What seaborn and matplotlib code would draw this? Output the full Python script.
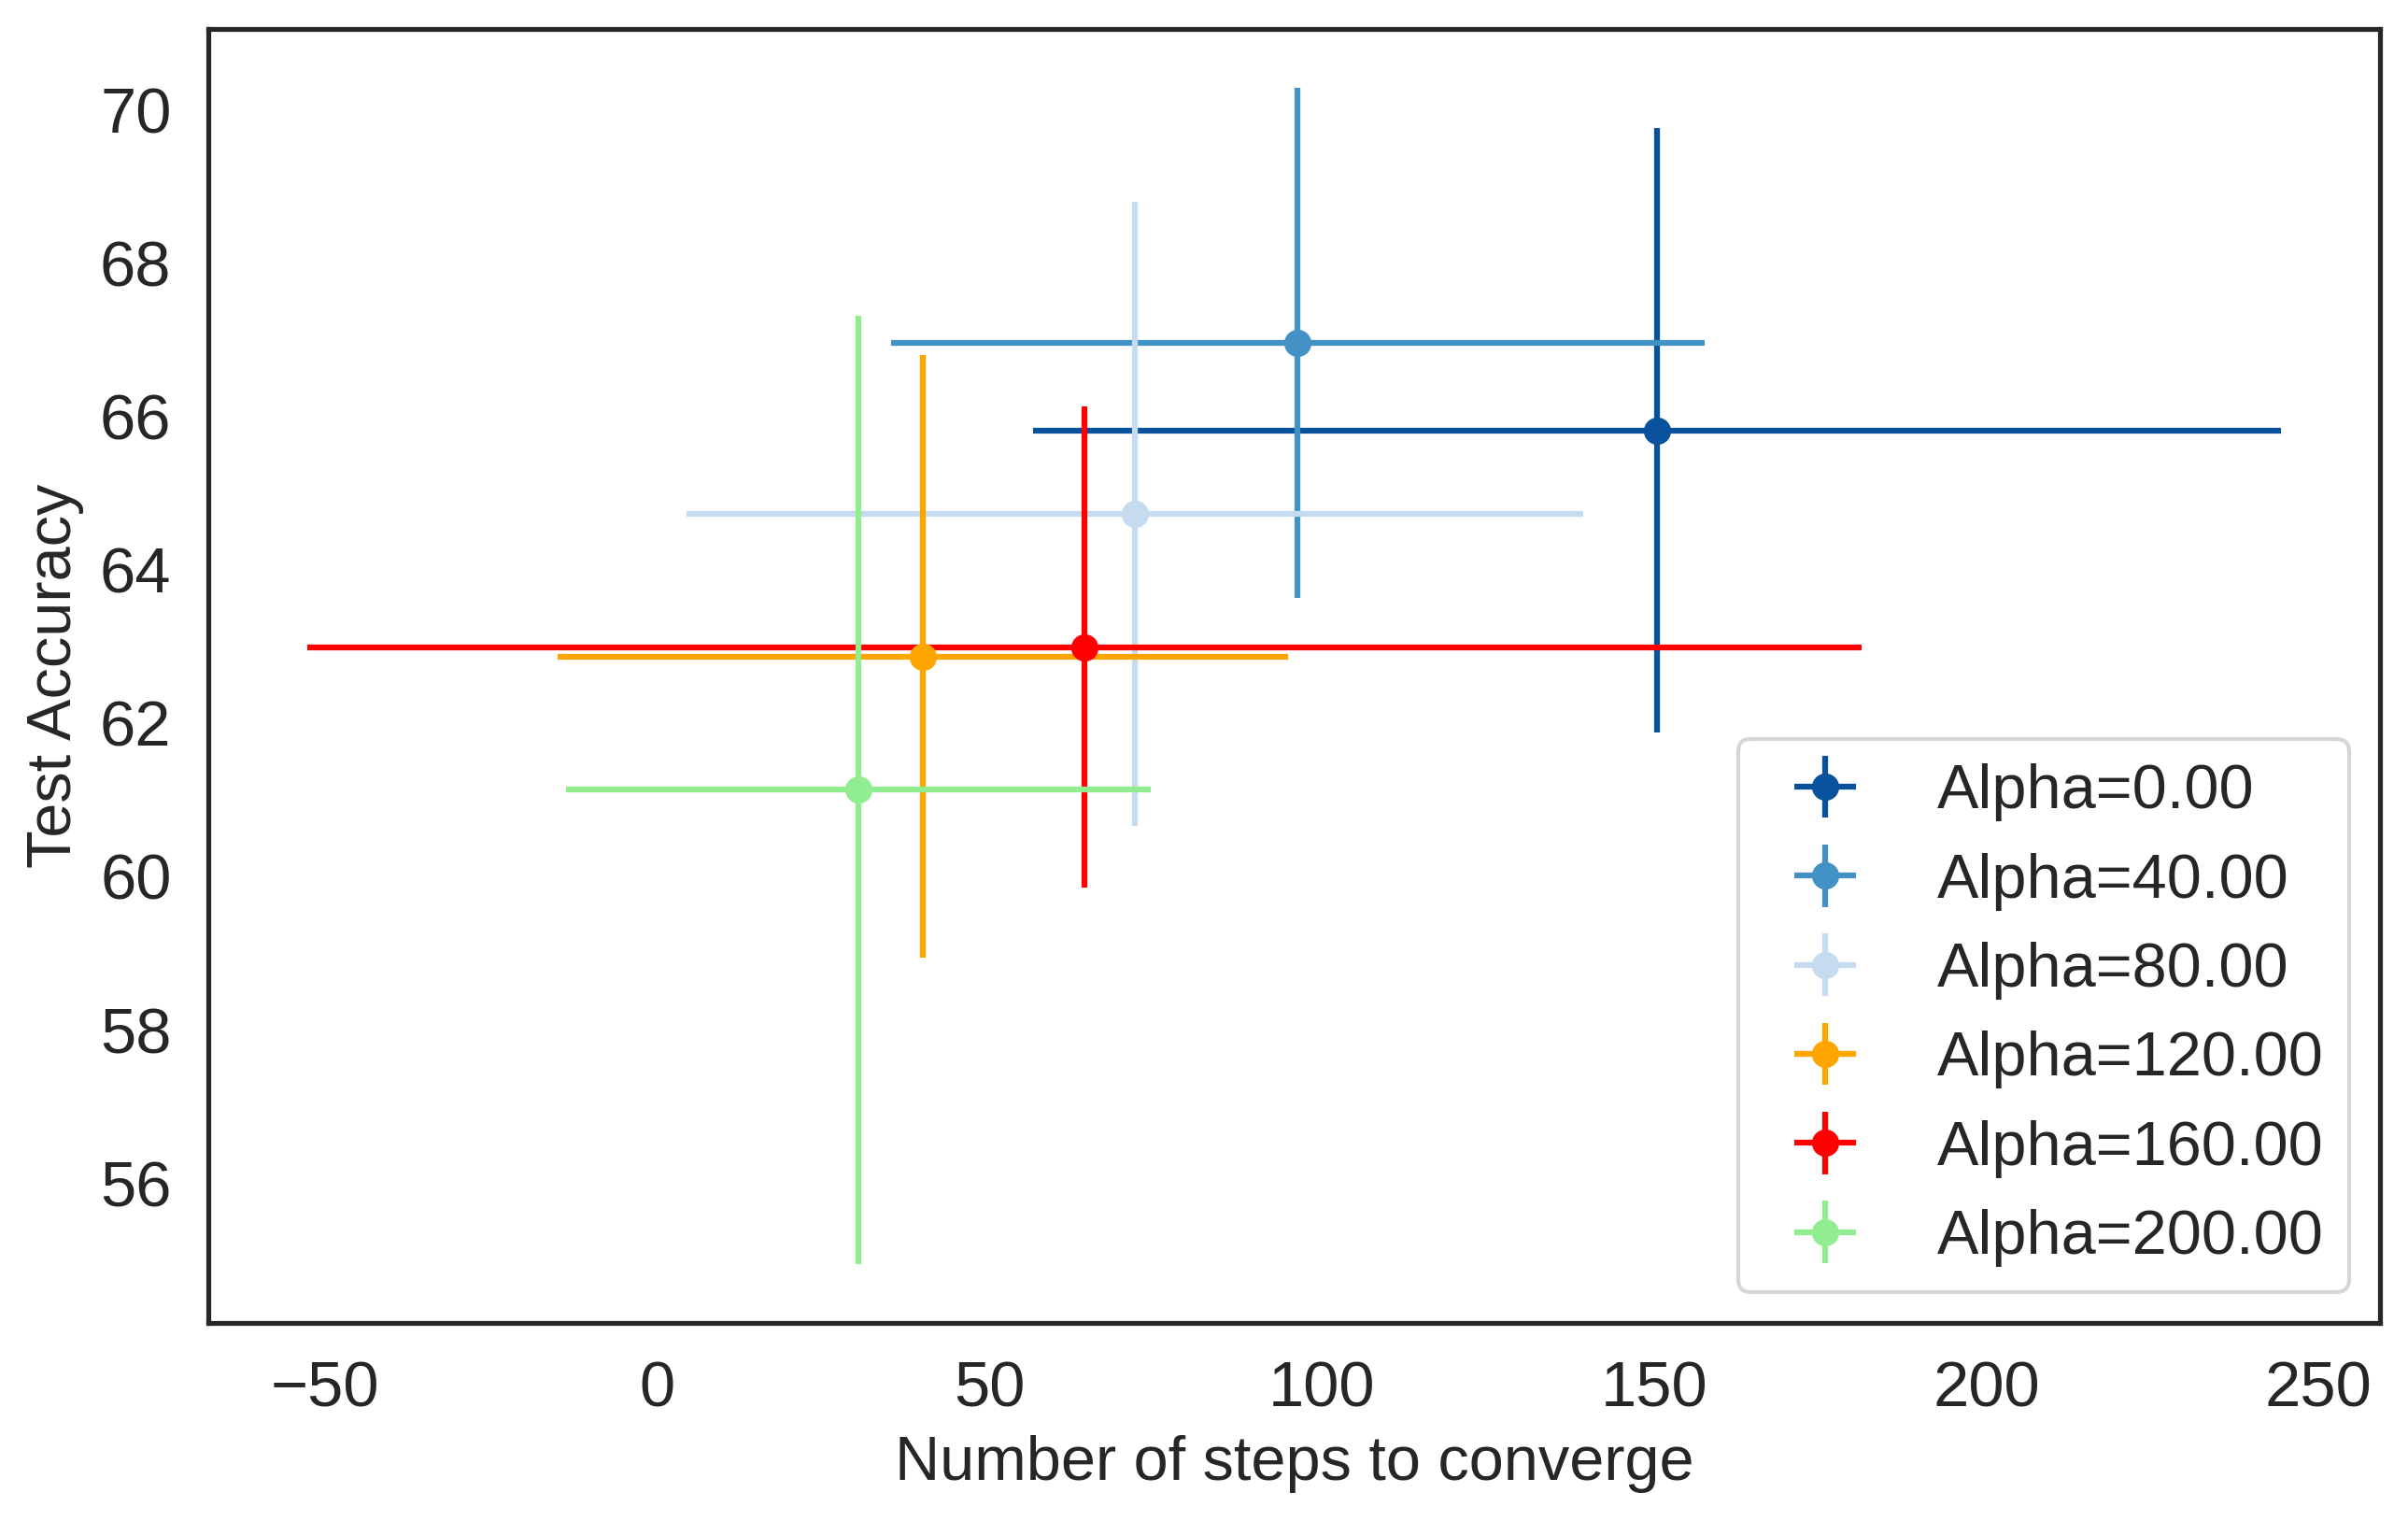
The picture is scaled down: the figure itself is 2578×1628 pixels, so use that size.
import matplotlib
matplotlib.use("Agg")
import matplotlib.pyplot as plt
import seaborn as sns

labels = ["Alpha=0.00", "Alpha=40.00", "Alpha=80.00", "Alpha=120.00", "Alpha=160.00", "Alpha=200.00"]
steps_mean = [150.5, 96.4, 71.9, 40.0, 64.3, 30.3]
steps_err = [93.9, 61.2, 67.5, 55.0, 117.0, 44.0]
acc_mean = [65.82, 66.96, 64.73, 62.87, 62.99, 61.13]
acc_err = [3.94, 3.33, 4.07, 3.93, 3.14, 6.19]

colors = ["#08519c", "#4292c6", "#c6dbef", "orange", "red", "lightgreen"]

sns.set_theme(context="notebook", style="white", font_scale=1.5)
plt.rcParams["font.family"] = ["Liberation Sans", "DejaVu Sans"]

fig = plt.figure(figsize=(2578 / 300, 1628 / 300), dpi=300)
ax = fig.add_axes([223 / 2578, 1 - 1416 / 1628, (2548 - 223) / 2578, (1416 - 31) / 1628])

for lab, xm, xe, ym, ye, c in zip(labels, steps_mean, steps_err, acc_mean, acc_err, colors):
    ax.errorbar(xm, ym, xerr=xe, yerr=ye, fmt="o", color=c, label=lab)

ax.set_xlabel("Number of steps to converge", fontsize=16)
ax.set_ylabel("Test Accuracy", fontsize=16)
ax.tick_params(labelsize=16.5)
ax.legend(loc="lower right", fontsize=16)

fig.savefig("out.png", dpi=300)
